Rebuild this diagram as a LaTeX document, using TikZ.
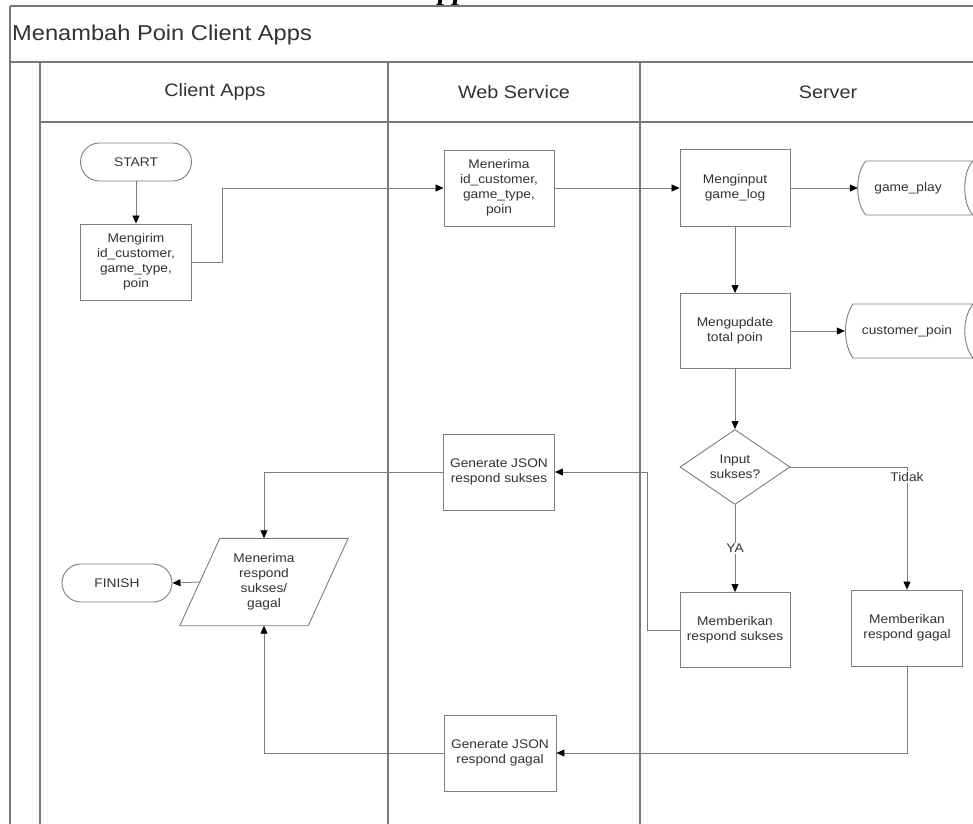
\documentclass[tikz,border=0pt]{standalone}
\usepackage{fontspec}
\setmainfont{Liberation Sans}[FakeStretch=1.1]
\newfontfamily\ppfont{Liberation Serif}
\usetikzlibrary{arrows.meta,shapes.geometric,calc}
\definecolor{lanegray}{RGB}{120,120,120}
\definecolor{boxgray}{RGB}{125,125,125}
\definecolor{txtgray}{RGB}{50,50,50}
\begin{document}
\begin{tikzpicture}[x=1pt,y=-1pt,
  lane/.style={draw=lanegray,line width=1.7pt},
  box/.style={draw=boxgray,line width=0.9pt,text=txtgray,align=center,inner sep=2pt,
    font=\fontsize{12.5}{15}\selectfont,minimum width=111pt,minimum height=76pt},
  term/.style={box,rounded corners=19pt,minimum height=38pt},
  plain/.style={text=txtgray,align=center,inner sep=0pt,font=\fontsize{12.5}{15}\selectfont},
  lbl/.style={plain,fill=white,inner sep=1.5pt},
  hdr/.style={text=txtgray,inner sep=0pt,font=\fontsize{18}{21}\selectfont},
  arr/.style={draw=boxgray,line width=0.8pt,-{Triangle[length=8pt,width=7pt,color=black]}},
  conn/.style={draw=boxgray,line width=0.8pt}]
\useasboundingbox (0,0) rectangle (973,823);
\clip (0,0) rectangle (973,823);
\fill[white] (0,0) rectangle (973,823);

% fragment of text above the frame
\node[anchor=base,inner sep=0pt,text=black,font=\ppfont\bfseries\itshape\fontsize{30}{30}\selectfont] (frag) at (453,-1) {pp};

% swimlane frame
\draw[lane] (10,6) -- (1000,6);
\draw[lane] (10,6) -- (10,840);
\draw[lane] (10,62) -- (1000,62);
\draw[lane] (40,122) -- (1000,122);
\draw[lane] (40,62) -- (40,840);
\draw[lane] (388,62) -- (388,840);
\draw[lane] (640,62) -- (640,840);

\node[anchor=west,text=txtgray,inner sep=0pt,font=\fontsize{21.5}{25}\selectfont] (title) at (12,35) {Menambah Poin Client Apps};
\node[hdr] (hc) at (215,92) {Client Apps};
\node[hdr] (hw) at (514,92) {Web Service};
\node[hdr] (hs) at (828,92) {Server};

% nodes
\node[term] (start) at (136,162) {START};
\node[box] (send) at (136,262) {Mengirim\\id\_customer,\\game\_type,\\poin};
\node[box,minimum width=110pt] (recv1) at (499,188) {Menerima\\id\_customer,\\game\_type,\\poin};
\node[box,minimum width=110pt,minimum height=77pt] (input) at (735,188) {Menginput\\game\_log};
\node[plain,minimum width=100pt,minimum height=54pt] (gp) at (908,188) {game\_play};
\node[box,minimum width=110pt,minimum height=75pt] (upd) at (735,331) {Mengupdate\\total poin};
\node[plain,minimum width=124pt,minimum height=54pt] (cp) at (907,331) {customer\_poin};
\node[box,shape=diamond,shape aspect=1.47,inner sep=0pt,minimum width=110pt,minimum height=75pt] (dec) at (735,467) {Input\\sukses?};
\node[box,minimum width=110pt,minimum height=75pt] (okbox) at (735,630) {Memberikan\\respond sukses};
\node[box] (failbox) at (907,628) {Memberikan\\respond gagal};
\node[box] (gensucc) at (499,472) {Generate JSON\\respond sukses};
\node[box,minimum width=112pt] (genfail) at (500,753) {Generate JSON\\respond gagal};
\node[plain,minimum width=128pt,minimum height=87pt] (recv2) at (264,582) {Menerima\\respond\\sukses/\\gagal};
\node[term,minimum width=110pt] (finish) at (117,583) {FINISH};

% parallelogram outline
\draw[draw=boxgray,line width=0.9pt]
  ($(recv2.north west)+(20,0)$) -- ($(recv2.north east)+(20,0)$) --
  ($(recv2.south east)+(-20,0)$) -- ($(recv2.south west)+(-20,0)$) -- cycle;

% storage shapes (cut by the right edge)
\draw[draw=boxgray,line width=0.9pt]
  (990,161) -- (866,161) .. controls (855,172) and (855,204) .. (866,215) -- (990,215);
\draw[draw=boxgray,line width=0.9pt] (973,161) .. controls (962,172) and (962,204) .. (973,215);
\draw[draw=boxgray,line width=0.9pt]
  (990,304) -- (853,304) .. controls (843,318) and (843,344) .. (853,358) -- (990,358);
\draw[draw=boxgray,line width=0.9pt] (973,304) .. controls (962,318) and (962,344) .. (973,358);

% connectors
\draw[arr] (start) -- (send);
\draw[arr] (send.east) -- ++(30,0) |- (recv1.west);
\draw[arr] (recv1) -- (input);
\draw[arr] (input.east) -- (gp.west);
\draw[arr] (input) -- (upd);
\draw[arr] (upd.east) -- (cp.west);
\draw[arr] (upd) -- (dec);
\draw[arr] (dec.south) -- node[lbl] {YA} (okbox.north);
\draw[arr] (dec.east) -| node[lbl,pos=0.54] {Tidak} (failbox.north);
\draw[arr] (okbox.west) -- ++(-32,0) |- (gensucc.east);
\draw[arr] (gensucc.west) -| (recv2.north);
\draw[arr] (recv2.west) -- (finish.east);
\draw[arr] (failbox.south) |- (genfail.east);
\draw[arr] (genfail.west) -| (recv2.south);
\end{tikzpicture}
\end{document}
